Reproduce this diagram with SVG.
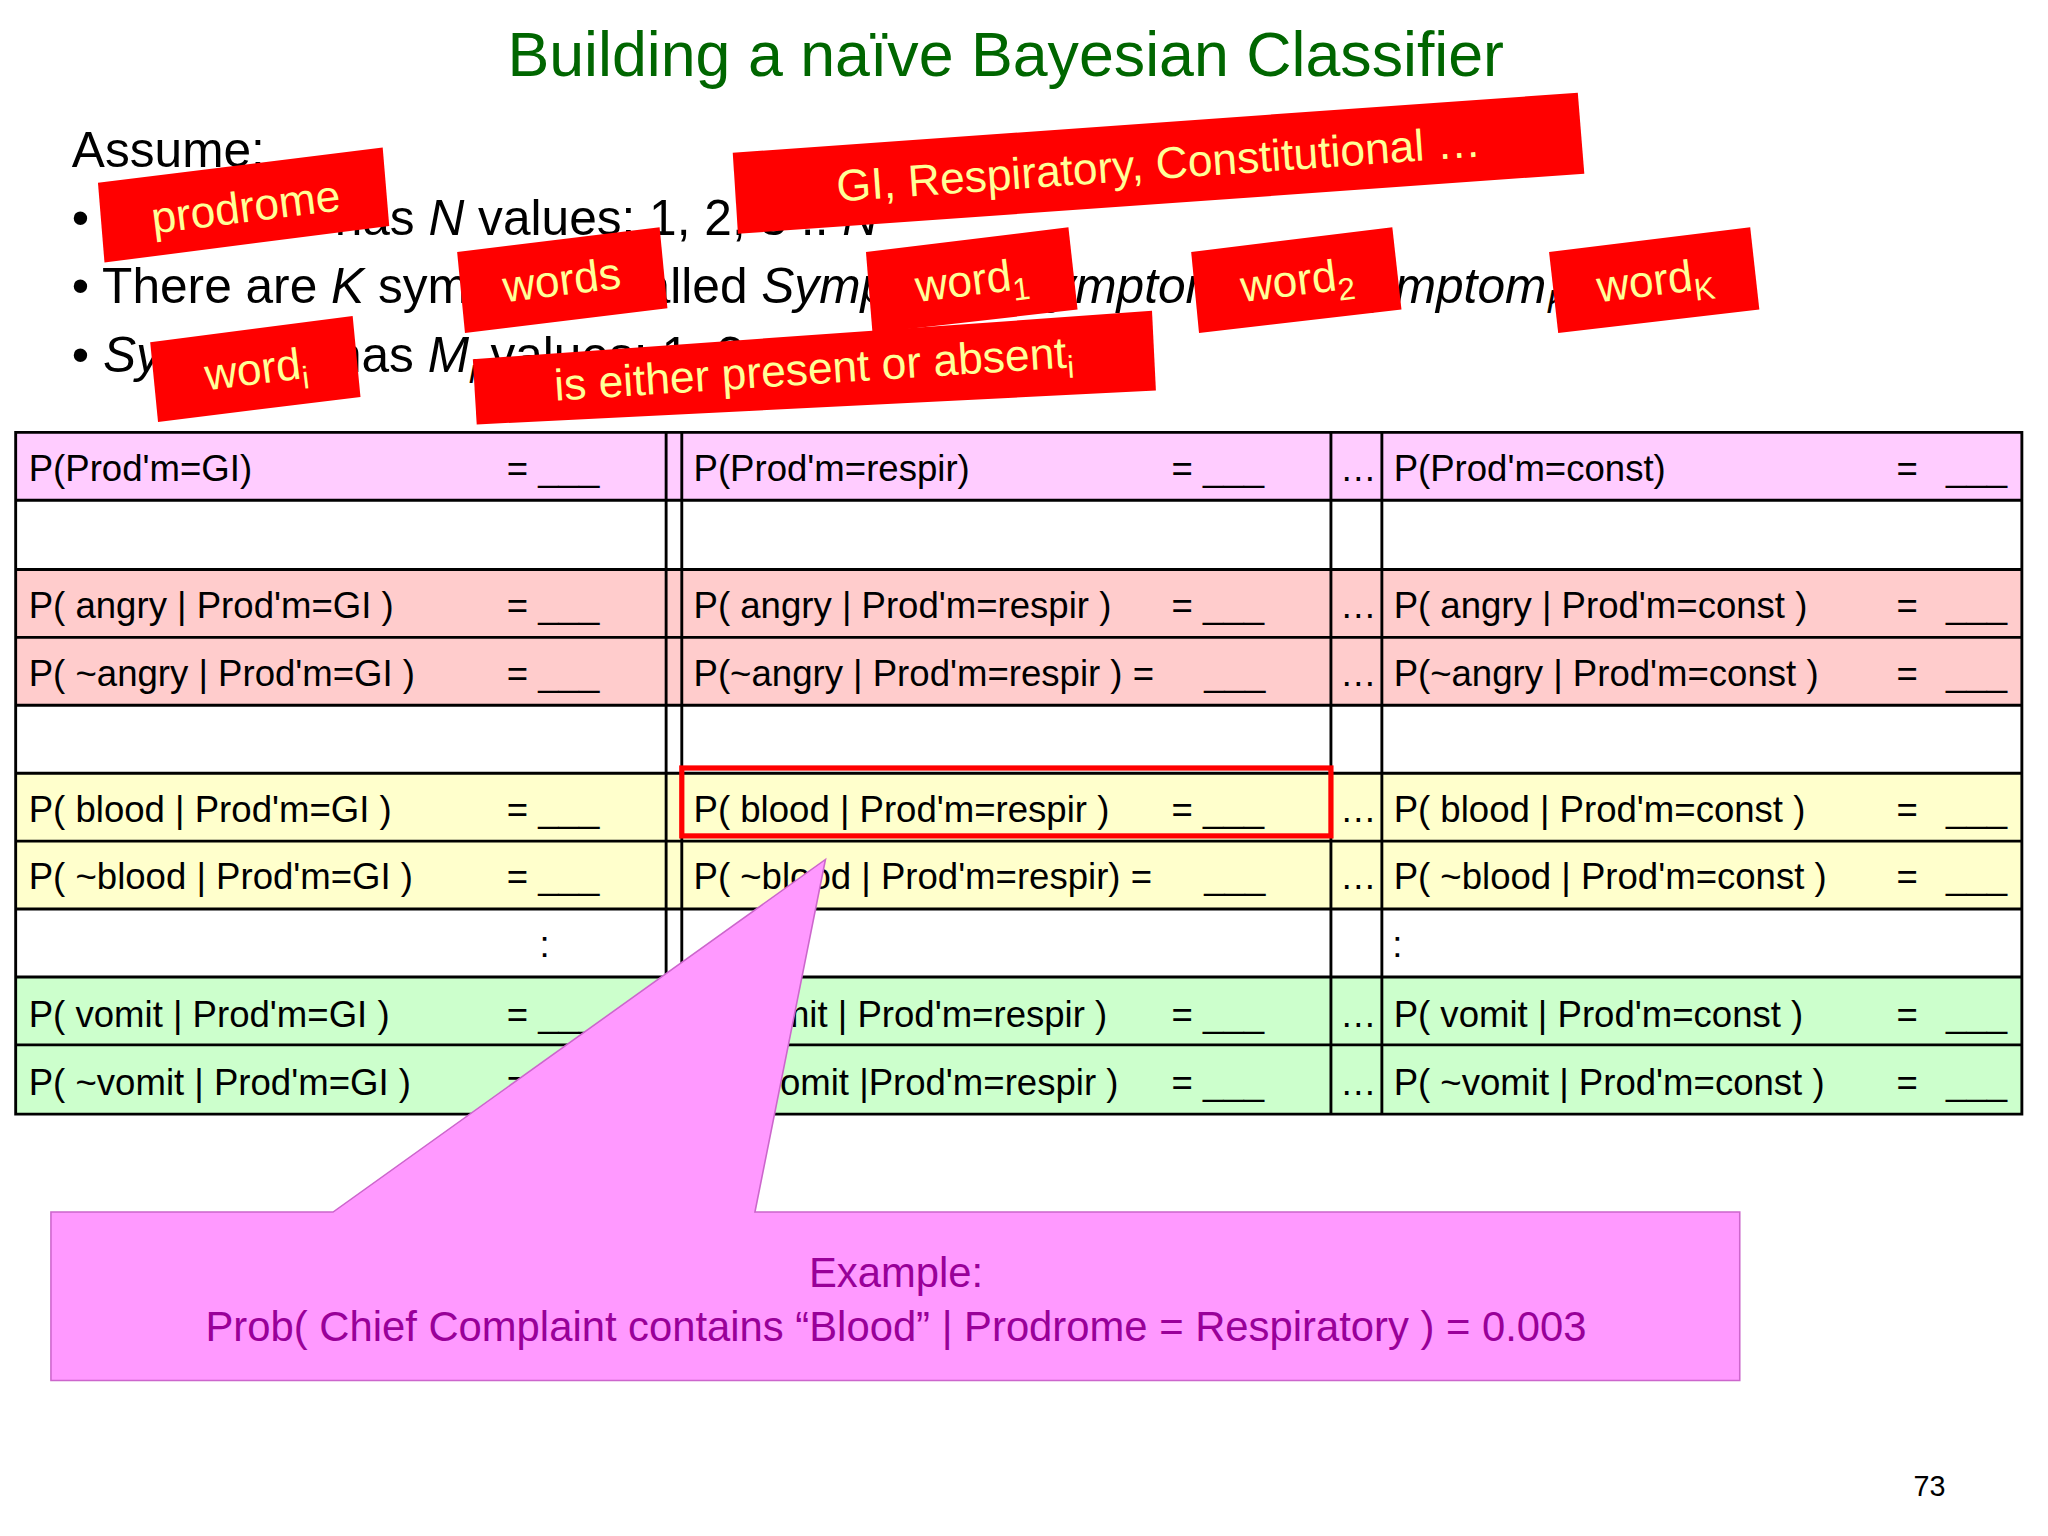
<svg xmlns="http://www.w3.org/2000/svg" width="2048" height="1536" viewBox="0 0 2048 1536">
<style>
text{font-family:"Liberation Sans",Arial,sans-serif}
.t{font-size:28px;fill:#000}
.b{font-size:38px;fill:#000}
.lab{font-size:34px;fill:#ffff99}
.red{fill:#ff0000}
.grid{stroke:#000;stroke-width:2.2;fill:none}
</style>
<rect width="2048" height="1536" fill="#fff"/>
<g transform="scale(1.30612)">
<g id="title"><text x="770" y="58" font-size="48" fill="#006600" text-anchor="middle">Building a naïve Bayesian Classifier</text></g>
<g id="bullets" class="b">
<text class="b" x="55" y="128">Assume:</text>
<text class="b" x="55" y="180">•  Prodrome has <tspan font-style="italic">N</tspan> values: 1, 2, 3 .. <tspan font-style="italic">N</tspan></text>
<text class="b" x="55" y="232">•  There are <tspan font-style="italic">K</tspan> symptoms called <tspan font-style="italic">Symptom</tspan><tspan font-size="26" dy="8" font-style="italic">1</tspan><tspan dy="-8">, </tspan><tspan font-style="italic">Symptom</tspan><tspan font-size="26" dy="8" font-style="italic">2</tspan><tspan dy="-8">, … </tspan><tspan font-style="italic">Symptom</tspan><tspan font-size="26" dy="8" font-style="italic">K</tspan></text>
<text class="b" x="55" y="285">•  <tspan font-style="italic">Symptom</tspan><tspan font-size="26" dy="8" font-style="italic">i</tspan><tspan dy="-8"> has </tspan><tspan font-style="italic">M</tspan><tspan font-size="26" dy="8" font-style="italic">i</tspan><tspan dy="-8"> values: 1, 2, .. </tspan><tspan font-style="italic">M</tspan><tspan font-size="26" dy="8" font-style="italic">i</tspan></text>
</g>
<g id="labels">
<polygon class="red" points="75,140 293,113 298,173 80,201"/>
<text class="lab" x="188" y="170" text-anchor="middle" transform="rotate(-7 188 158)">prodrome</text>
<polygon class="red" points="561,117 1208,71 1213,133 565,179"/>
<text class="lab" x="887" y="137" text-anchor="middle" transform="rotate(-4 887 125)">GI, Respiratory, Constitutional …</text>
<polygon class="red" points="350,193 505,174 511,236 356,255"/>
<text class="lab" x="430" y="226" text-anchor="middle" transform="rotate(-7 430 214)">words</text>
<polygon class="red" points="663,193 818,174 825,237 668,255"/>
<text class="lab" x="744" y="226" text-anchor="middle" transform="rotate(-7 744 214)">word<tspan font-size="24" dy="8">1</tspan></text>
<polygon class="red" points="912,193 1066,174 1073,237 918,255"/>
<text class="lab" x="993" y="226" text-anchor="middle" transform="rotate(-7 993 214)">word<tspan font-size="24" dy="8">2</tspan></text>
<polygon class="red" points="1186,193 1340,174 1347,237 1193,255"/>
<text class="lab" x="1267" y="226" text-anchor="middle" transform="rotate(-7 1267 214)">word<tspan font-size="24" dy="8">K</tspan></text>
<polygon class="red" points="115,262 270,242 276,304 121,323"/>
<text class="lab" x="196" y="294" text-anchor="middle" transform="rotate(-7 196 282)">word<tspan font-size="24" dy="8">i</tspan></text>
<polygon class="red" points="362,275 882,238 885,299 365,325"/>
<text class="lab" x="623" y="294" text-anchor="middle" transform="rotate(-3.7 623 282)">is either present or absent<tspan font-size="24" dy="8">i</tspan></text>
</g>
<g id="table">
<rect x="12" y="331" width="1536" height="52" fill="#ffccff"/>
<rect x="12" y="436" width="1536" height="104" fill="#ffcccc"/>
<rect x="12" y="592" width="1536" height="104" fill="#ffffcc"/>
<rect x="12" y="748" width="1536" height="105" fill="#ccffcc"/>
<path class="grid" d="M12,331H1548V853H12Z M12,383H1548 M12,436H1548 M12,488H1548 M12,540H1548 M12,592H1548 M12,644H1548 M12,696H1548 M12,748H1548 M12,800H1548 M510,331V853 M522,331V853 M1019,331V853 M1058,331V853"/>
<g class="t">
<text class="t" x="22" y="368">P(Prod'm=GI)</text><text class="t" x="388" y="368">= ___</text>
<text class="t" x="531" y="368">P(Prod'm=respir)</text><text class="t" x="897" y="368">= ___</text>
<text class="t" x="1026" y="368">…</text><text class="t" x="1067" y="368">P(Prod'm=const)</text><text class="t" x="1452" y="368">=</text><text class="t" x="1490" y="368">___</text>

<text class="t" x="22" y="473">P( angry | Prod'm=GI )</text><text class="t" x="388" y="473">= ___</text>
<text class="t" x="531" y="473">P( angry | Prod'm=respir )</text><text class="t" x="897" y="473">= ___</text>
<text class="t" x="1026" y="473">…</text><text class="t" x="1067" y="473">P( angry | Prod'm=const )</text><text class="t" x="1452" y="473">=</text><text class="t" x="1490" y="473">___</text>

<text class="t" x="22" y="525">P( ~angry | Prod'm=GI )</text><text class="t" x="388" y="525">= ___</text>
<text class="t" x="531" y="525">P(~angry | Prod'm=respir ) =</text><text class="t" x="922" y="525">___</text>
<text class="t" x="1026" y="525">…</text><text class="t" x="1067" y="525">P(~angry | Prod'm=const )</text><text class="t" x="1452" y="525">=</text><text class="t" x="1490" y="525">___</text>

<text class="t" x="22" y="629">P( blood | Prod'm=GI )</text><text class="t" x="388" y="629">= ___</text>
<text class="t" x="531" y="629">P( blood | Prod'm=respir )</text><text class="t" x="897" y="629">= ___</text>
<text class="t" x="1026" y="629">…</text><text class="t" x="1067" y="629">P( blood | Prod'm=const )</text><text class="t" x="1452" y="629">=</text><text class="t" x="1490" y="629">___</text>

<text class="t" x="22" y="681">P( ~blood | Prod'm=GI )</text><text class="t" x="388" y="681">= ___</text>
<text class="t" x="531" y="681">P( ~blood | Prod'm=respir) =</text><text class="t" x="922" y="681">___</text>
<text class="t" x="1026" y="681">…</text><text class="t" x="1067" y="681">P( ~blood | Prod'm=const )</text><text class="t" x="1452" y="681">=</text><text class="t" x="1490" y="681">___</text>

<text class="t" x="413" y="733">:</text><text class="t" x="1066" y="733">:</text>

<text class="t" x="22" y="786">P( vomit | Prod'm=GI )</text><text class="t" x="388" y="786">= ___</text>
<text class="t" x="531" y="786">P( vomit | Prod'm=respir )</text><text class="t" x="897" y="786">= ___</text>
<text class="t" x="1026" y="786">…</text><text class="t" x="1067" y="786">P( vomit | Prod'm=const )</text><text class="t" x="1452" y="786">=</text><text class="t" x="1490" y="786">___</text>

<text class="t" x="22" y="838">P( ~vomit | Prod'm=GI )</text><text class="t" x="388" y="838">= ___</text>
<text class="t" x="531" y="838">P( ~vomit |Prod'm=respir )</text><text class="t" x="897" y="838">= ___</text>
<text class="t" x="1026" y="838">…</text><text class="t" x="1067" y="838">P( ~vomit | Prod'm=const )</text><text class="t" x="1452" y="838">=</text><text class="t" x="1490" y="838">___</text>
</g>
<rect x="522" y="588" width="497" height="52" fill="none" stroke="#ff0000" stroke-width="4"/>
</g>
<g id="callout">
<polygon points="39,928 255,928 632,658 578,928 1332,928 1332,1057 39,1057" fill="#ff99ff" stroke="#cc66cc" stroke-width="1.2"/>
<text x="686" y="985" font-size="32" fill="#990099" text-anchor="middle">Example:</text>
<text x="686" y="1027" font-size="32" fill="#990099" text-anchor="middle">Prob( Chief Complaint contains “Blood” | Prodrome = Respiratory ) = 0.003</text>
</g>
<g id="page"><text x="1465" y="1145" font-size="22" fill="#000">73</text></g>
</g>
</svg>
